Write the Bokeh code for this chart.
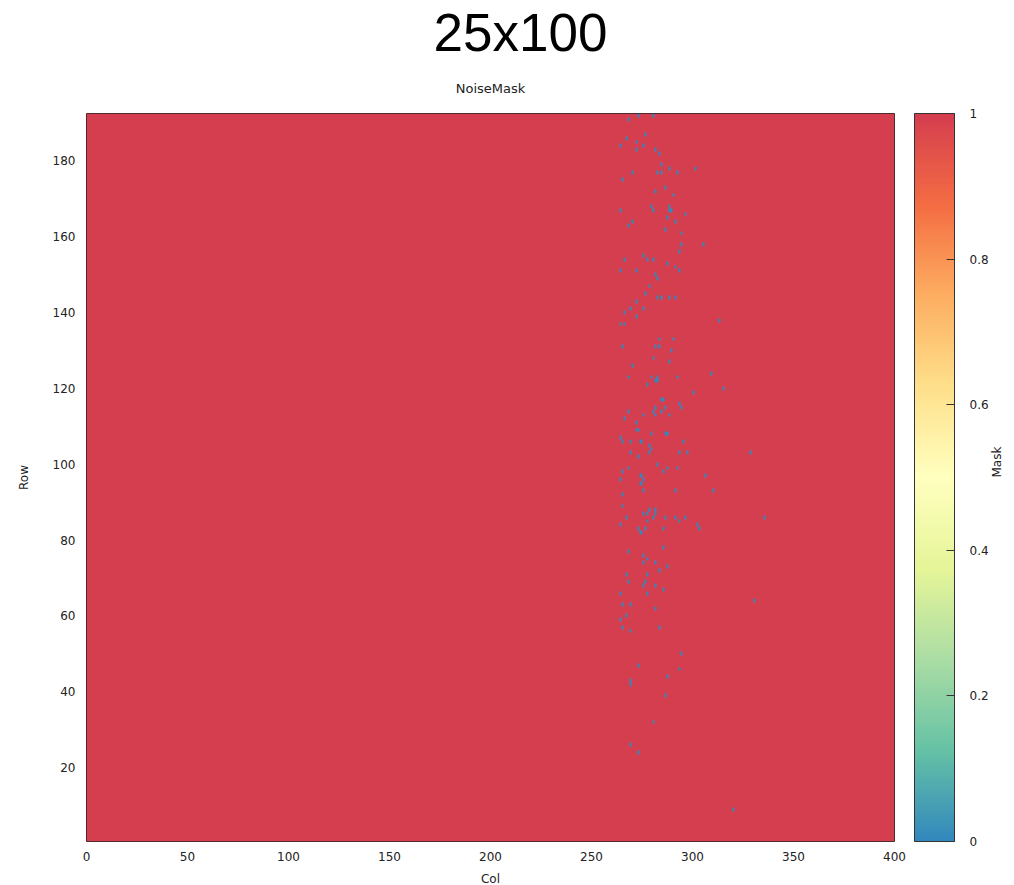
import math
import numpy as np
from bokeh.plotting import figure
from bokeh.models import (LinearColorMapper, ColorBar, FixedTicker, Range1d, Title,
                          LinearAxis, CustomJSTickFormatter)
from bokeh.embed import file_html
from bokeh.resources import INLINE

# ---- data ----
n_rows = 192
n_cols = 400
# (row, col) cells where NoiseMask == 0; all other cells are 1
zero_rows = [192, 192, 191, 187, 186, 185, 184, 184, 183, 183, 182, 179, 178, 178, 177, 177, 177, 177,
             175, 173, 172, 171, 168, 168, 167, 167, 167, 167, 166, 165, 164, 164, 163, 162, 161,
             158, 158, 156, 155, 154, 154, 154, 153, 152, 151, 151, 151, 150, 149, 147, 145, 144,
             144, 144, 144, 143, 141, 141, 140, 139, 137, 137, 138, 133, 133, 131, 131, 131, 130, 128,
             127, 126, 124, 123, 123, 123, 123, 122, 122, 121, 120, 119, 117, 117, 116, 115, 115, 115,
             114, 114, 114, 113, 113, 113, 112, 111, 109, 109, 108, 108, 108, 107, 106, 106, 106, 106,
             105, 104, 103, 102, 103, 103, 103, 103, 100, 99, 99, 99, 98, 98, 97, 97, 96, 96, 95,
             93, 93, 93, 92, 89, 88, 88, 87, 87, 87, 86, 86, 86, 86, 86, 86, 85, 85, 84, 84, 83, 83,
             83, 83, 82, 78, 77, 76, 75, 74, 74, 73, 72, 71, 71, 69, 69, 68, 68, 67, 66, 66, 64, 63,
             63, 62,
             60, 59, 57, 56, 57, 50, 47, 46, 44, 43, 42, 39, 32,
             26, 24, 9]
zero_cols = [273, 280, 268, 276, 267, 272, 264, 275, 272, 281, 283, 284, 288, 301, 270, 282, 284, 292,
             265, 286, 281, 290, 279, 288, 264, 280, 288, 289, 296, 287, 270, 291, 268, 286, 294,
             294, 305, 293, 275, 266, 277, 280, 287, 291, 264, 272, 293, 281, 282, 278, 276, 282,
             284, 288, 291, 272, 269, 275, 266, 272, 264, 266, 313, 283, 290, 265, 281, 283, 289, 280,
             288, 270, 309, 268, 279, 282, 292, 281, 282, 277, 315, 300, 284, 285, 293, 281, 286, 294,
             268, 280, 284, 275, 281, 288, 266, 272, 272, 273, 279, 286, 287, 264, 265, 269, 274, 295,
             278, 279, 269, 273, 278, 293, 297, 328, 282, 268, 287, 292, 265, 285, 274, 306, 264, 275, 274,
             275, 291, 310, 265, 265, 278, 281, 275, 277, 281, 267, 280, 286, 291, 296, 335, 277, 293, 264, 302, 273, 276,
             285, 303, 274, 285, 268, 275, 277, 275, 281, 287, 283, 267, 277, 268, 276, 275, 281, 285, 264, 277, 330, 265,
             269, 281,
             267, 264, 265, 269, 283, 294, 273, 293, 287, 269, 269, 286, 280,
             269, 273, 320]
x_ticks = [0, 50, 100, 150, 200, 250, 300, 350, 400]
y_ticks = [20, 40, 60, 80, 100, 120, 140, 160, 180]
cb_ticks = [0, 0.2, 0.4, 0.6, 0.8, 1]

mask = np.ones((n_rows, n_cols))
for r, c in zip(zero_rows, zero_cols):
    mask[r - 1, c] = 0.0

# Spectral (9) reversed, interpolated to 256 colours
spec = ['#3288bd', '#66c2a5', '#abdda4', '#e6f598', '#ffffbf', '#fee08b', '#fdae61', '#f46d43', '#d53e4f']
rgb = np.array([[int(h[i:i + 2], 16) for i in (1, 3, 5)] for h in spec], dtype=float)
pos = np.linspace(0, 1, len(spec))
t = np.linspace(0, 1, 256)
pal = []
for v in t:
    cch = [np.interp(v, pos, rgb[:, k]) for k in range(3)]
    pal.append('#%02x%02x%02x' % tuple(int(round(x)) for x in cch))

mapper = LinearColorMapper(palette=pal, low=0, high=1)

TXT = "#222222"
FONT = "DejaVu Sans"

p = figure(frame_width=808, frame_height=728, output_backend="svg", toolbar_location=None,
           x_range=Range1d(0, n_cols), y_range=Range1d(0.5, n_rows + 0.5),
           min_border_left=86, min_border_top=0, min_border_bottom=0, min_border_right=0,
           title=None)

big = Title(text="25x100", align="left", offset=347, text_font="Liberation Sans",
            text_font_size="53px", text_font_style="normal", text_color="#000000",
            standoff=0)
sub = Title(text="NoiseMask", align="center", text_font=FONT, text_font_size="13px",
            text_font_style="normal", text_color=TXT, standoff=35)
p.add_layout(sub, "above")
p.add_layout(big, "above")

p.image(image=[mask], x=0, y=0.5, dw=n_cols, dh=n_rows, color_mapper=mapper)

p.grid.visible = False
p.outline_line_color = "#222222"
p.outline_line_width = 1

for ax in (p.xaxis[0], p.yaxis[0]):
    ax.axis_line_color = None
    ax.major_tick_line_color = None
    ax.minor_tick_line_color = None
    ax.major_label_text_font = FONT
    ax.major_label_text_font_size = "12px"
    ax.major_label_text_color = TXT
    ax.axis_label_text_font = FONT
    ax.axis_label_text_font_size = "12px"
    ax.axis_label_text_font_style = "normal"
    ax.axis_label_text_color = TXT

p.xaxis[0].ticker = FixedTicker(ticks=x_ticks)
p.yaxis[0].ticker = FixedTicker(ticks=y_ticks)
p.xaxis[0].axis_label = "Col"
p.yaxis[0].axis_label = "Row"
p.xaxis[0].major_label_standoff = 4
p.xaxis[0].axis_label_standoff = 8
p.yaxis[0].major_label_standoff = 5
p.yaxis[0].axis_label_standoff = 19

cb = ColorBar(color_mapper=mapper, width=40, height=728, padding=0, margin=0,
              location=(20, 0),
              ticker=FixedTicker(ticks=cb_ticks),
              formatter=CustomJSTickFormatter(code="return String(Math.round(tick*10)/10);"),
              major_label_text_font=FONT, major_label_text_font_size="12px",
              major_label_text_color=TXT, label_standoff=15,
              major_tick_in=8, major_tick_line_color="#333333",
              minor_tick_line_color=None,
              bar_line_color="#333333", border_line_color=None,
              background_fill_color=None)
p.add_layout(cb, "right")

lab = LinearAxis(axis_label="Mask", ticker=FixedTicker(ticks=[]),
                 axis_line_color=None, major_tick_line_color=None, minor_tick_line_color=None,
                 axis_label_text_font=FONT, axis_label_text_font_size="12px",
                 axis_label_text_font_style="normal", axis_label_text_color=TXT,
                 axis_label_standoff=5)
if "axis_label_orientation" in LinearAxis.properties():
    lab.axis_label_orientation = math.pi / 2
p.add_layout(lab, "right")

open("out.html", "w").write(file_html(p, INLINE))
